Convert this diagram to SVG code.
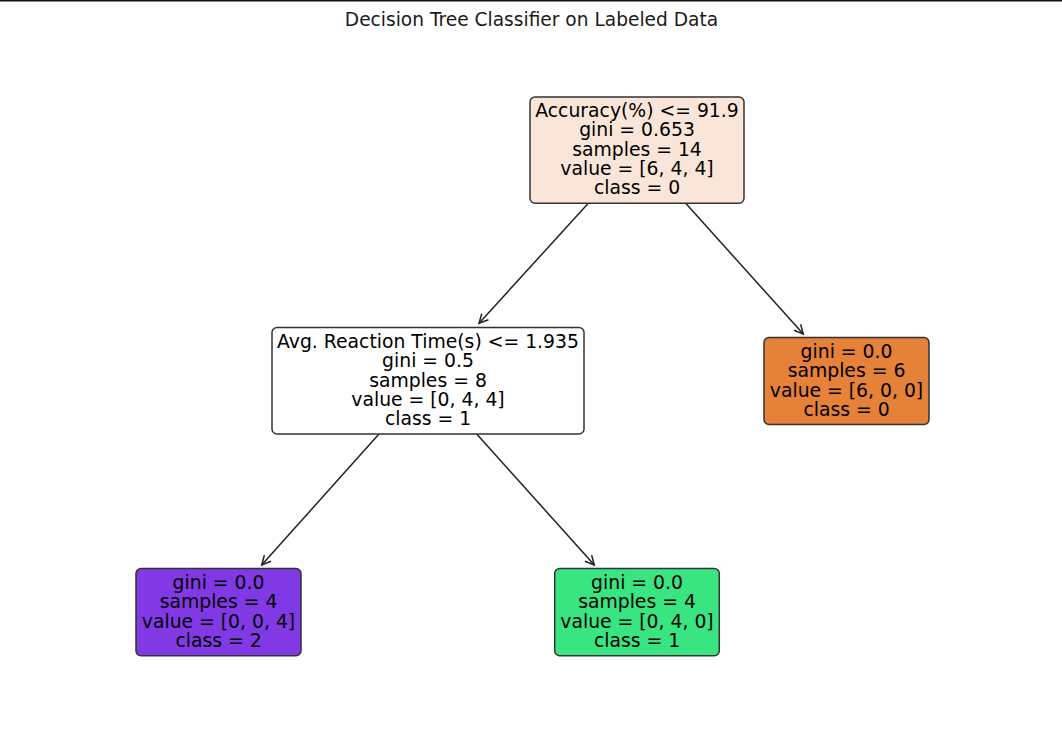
<svg xmlns="http://www.w3.org/2000/svg" width="1062" height="737" viewBox="0 0 1062 737">
<style>
text { font-family: "DejaVu Sans", "Liberation Sans", sans-serif; font-size: 18.8px; fill: #000; text-anchor: middle; }
.title { fill: #1a1a1a; font-size: 18.6px; }
.box { stroke: #333; stroke-width: 1.5; }
.edge { stroke: #222; stroke-width: 1.5; fill: none; marker-end: url(#arr); }
</style>
<defs>
<marker id="arr" markerUnits="userSpaceOnUse" markerWidth="20" markerHeight="20" viewBox="-12 -10 14 20" refX="0" refY="0" orient="auto">
<path d="M-9,-4.5 L0,0 L-9,4.5" fill="none" stroke="#222" stroke-width="1.5"/>
</marker>
</defs>
<rect x="0" y="0" width="1062" height="737" fill="#fff"/>
<rect x="0" y="0" width="1062" height="1.5" fill="#111"/>
<text class="title" x="531.5" y="26">Decision Tree Classifier on Labeled Data</text>
<g id="connectors">
<line class="edge" x1="588.3" y1="203.3" x2="479" y2="323.3"/>
<line class="edge" x1="685.7" y1="203.3" x2="803.3" y2="334"/>
<line class="edge" x1="379" y1="434" x2="261.7" y2="565"/>
<line class="edge" x1="476.7" y1="434" x2="594.3" y2="565"/>
</g>
<g id="node0">
<rect class="box" x="530" y="97" width="214" height="106.3" rx="5" fill="#fae6d8"/>
<text x="637" y="117.1">Accuracy(%) &lt;= 91.9</text>
<text x="637" y="136.4">gini = 0.653</text>
<text x="637" y="155.7">samples = 14</text>
<text x="637" y="175">value = [6, 4, 4]</text>
<text x="637" y="194.3">class = 0</text>
</g>
<g id="node1">
<rect class="box" x="272" y="327.5" width="312" height="106.5" rx="5" fill="#ffffff"/>
<text x="428" y="348">Avg. Reaction Time(s) &lt;= 1.935</text>
<text x="428" y="367.3">gini = 0.5</text>
<text x="428" y="386.6">samples = 8</text>
<text x="428" y="405.9">value = [0, 4, 4]</text>
<text x="428" y="425.2">class = 1</text>
</g>
<g id="node2">
<rect class="box" x="136" y="568.5" width="165" height="87.2" rx="5" fill="#8139e5"/>
<text x="218.5" y="589.1">gini = 0.0</text>
<text x="218.5" y="608.4">samples = 4</text>
<text x="218.5" y="627.7">value = [0, 0, 4]</text>
<text x="218.5" y="647">class = 2</text>
</g>
<g id="node3">
<rect class="box" x="554.7" y="568.5" width="164.6" height="87.2" rx="5" fill="#39e581"/>
<text x="637" y="589.1">gini = 0.0</text>
<text x="637" y="608.4">samples = 4</text>
<text x="637" y="627.7">value = [0, 4, 0]</text>
<text x="637" y="647">class = 1</text>
</g>
<g id="node4">
<rect class="box" x="764" y="337.5" width="165" height="87" rx="5" fill="#e58139"/>
<text x="846.5" y="358">gini = 0.0</text>
<text x="846.5" y="377.3">samples = 6</text>
<text x="846.5" y="396.6">value = [6, 0, 0]</text>
<text x="846.5" y="415.9">class = 0</text>
</g>
</svg>
